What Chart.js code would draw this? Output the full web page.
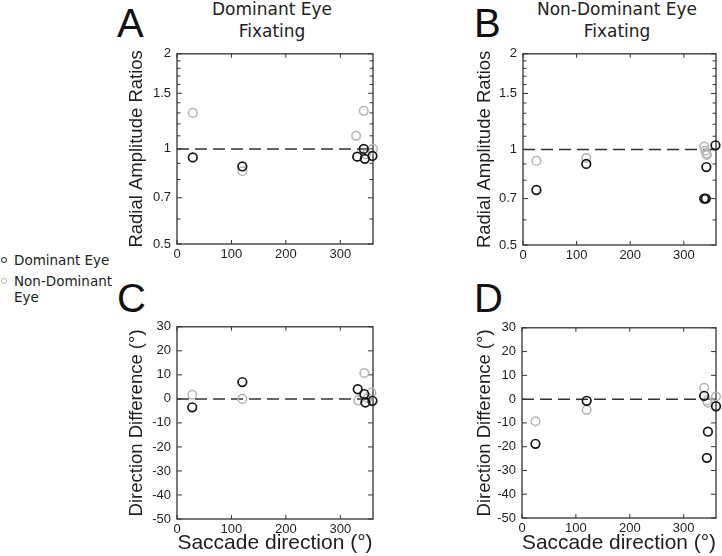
<!DOCTYPE html>
<html lang="en">
<head>
    <meta charset="UTF-8">
    <title>Saccade amplitude and direction</title>
    <script src="https://cdn.jsdelivr.net/npm/chart.js"></script>
    <style>
        body { margin: 0; background: #fff; }
        #page { position: relative; width: 722px; height: 556px; overflow: hidden; }
        canvas { position: absolute; }
        .letter { position: absolute; font-family: 'Liberation Sans', Arial, sans-serif; font-size: 40px; line-height: 40px; color: #111; }
        .title { position: absolute; width: 240px; text-align: center; font-family: 'DejaVu Sans', sans-serif; font-size: 17px; line-height: 22px; color: #222; }
        #legend { position: absolute; left: 0; top: 252px; width: 130px; font-family: 'DejaVu Sans', sans-serif; font-size: 13.5px; line-height: 16px; color: #222; }
        .item { position: relative; padding-left: 14px; margin-bottom: 5px; width: 104px; }
        .mark { position: absolute; left: 1px; top: 5px; width: 4px; height: 4px; border: 1.5px solid; border-radius: 50%; }
    </style>
</head>
<body>
<div id="page">
    <div class="letter" style="left:117px; top:3px;">A</div>
    <div class="letter" style="left:474px; top:3px;">B</div>
    <div class="letter" style="left:117px; top:278px;">C</div>
    <div class="letter" style="left:474px; top:278px;">D</div>
    <div class="title" style="left:152px; top:-2px;">Dominant Eye<br>Fixating</div>
    <div class="title" style="left:497px; top:-2px;">Non-Dominant Eye<br>Fixating</div>
    <div id="legend"></div>

    <canvas id="chartA" width="270" height="225" style="left:120px; top:40px;"></canvas>
    <canvas id="chartB" width="254" height="226" style="left:468px; top:40px;"></canvas>
    <canvas id="chartC" width="270" height="243" style="left:120px; top:313px;"></canvas>
    <canvas id="chartD" width="254" height="242" style="left:468px; top:314px;"></canvas>
</div>

<script>
    // series
    const seriesLabels = ['Dominant Eye', 'Non-Dominant Eye'];
    const seriesColors = ['#161616', '#b4b4b4'];

    // ticks
    const xTickValues = [0, 100, 200, 300];
    const ratioTickValues = [0.5, 0.6, 0.7, 0.8, 0.9, 1, 1.1, 1.2, 1.3, 1.4, 1.5, 1.6, 1.7, 1.8, 1.9, 2];
    const ratioTickLabels = ['0.5', '', '0.7', '', '', '1', '', '', '', '', '1.5', '', '', '', '', '2'];
    const diffTickValues = [-50, -40, -30, -20, -10, 0, 10, 20, 30];
    const diffTickLabels = ['-50', '-40', '-30', '-20', '-10', '0', '10', '20', '30'];

    // A: dominant eye fixating, radial amplitude ratios
    const dirA_dom = [29, 120, 331, 343, 345, 359];
    const ratioA_dom = [0.94, 0.88, 0.945, 1.0, 0.93, 0.95];
    const dirA_non = [29, 120, 329, 343, 347, 360];
    const ratioA_non = [1.30, 0.85, 1.10, 1.32, 0.96, 1.0];

    // B: non-dominant eye fixating, radial amplitude ratios
    const dirB_dom = [25, 118, 338, 341, 342, 359];
    const ratioB_dom = [0.745, 0.90, 0.70, 0.70, 0.88, 1.03];
    const dirB_non = [25, 118, 338, 340, 342, 343];
    const ratioB_non = [0.92, 0.94, 1.02, 0.99, 0.97, 0.96];

    // C: dominant eye fixating, direction difference
    const dirC_dom = [28, 120, 332, 344, 346, 359];
    const diffC_dom = [-3.5, 7.0, 4.0, 2.0, -1.5, -0.8];
    const dirC_non = [28, 120, 333, 344, 350, 357];
    const diffC_non = [1.7, 0, -0.7, 10.8, 0.3, 2.6];

    // D: non-dominant eye fixating, direction difference
    const dirD_dom = [25, 120, 338, 343, 345, 360];
    const diffD_dom = [-18.8, -0.7, 1.4, -24.7, -13.7, -3];
    const dirD_non = [25, 120, 338, 343, 345, 360];
    const diffD_non = [-9.3, -4.5, 4.8, -0.7, -1.5, 1.1];

    const refRatio = 1;
    const refDiff = 0;

    Chart.defaults.font.family = "'Liberation Sans', Arial, sans-serif";
    Chart.defaults.color = '#1e1e1e';

    // legend
    const legend = document.getElementById('legend');
    seriesLabels.forEach((lab, i) => {
        const d = document.createElement('div');
        d.className = 'item';
        d.innerHTML = '<span class="mark" style="border-color:' + seriesColors[i] + '"></span>' + lab;
        legend.appendChild(d);
    });

    function pts(xs, ys) {
        return xs.map((x, i) => ({ x: x, y: ys[i] }));
    }

    // box round the plot with inward tick marks, like the original figure
    const boxPlugin = {
        id: 'box',
        beforeDatasetsDraw(chart) {
            const a = chart.chartArea;
            const ctx = chart.ctx;
            const xs = chart.scales.x, ys = chart.scales.y;
            const major = chart.options.plugins.box.major;
            ctx.save();
            ctx.strokeStyle = '#333';
            ctx.lineWidth = 1.3;
            ctx.strokeRect(a.left, a.top, a.right - a.left, a.bottom - a.top);
            ctx.lineWidth = 1;
            ctx.beginPath();
            xs.ticks.forEach(t => {
                const px = xs.getPixelForValue(t.value);
                ctx.moveTo(px, a.bottom); ctx.lineTo(px, a.bottom - 4);
                ctx.moveTo(px, a.top); ctx.lineTo(px, a.top + 4);
            });
            ys.ticks.forEach(t => {
                const py = ys.getPixelForValue(t.value);
                const len = major.includes(t.value) ? 5 : 3.5;
                ctx.moveTo(a.left, py); ctx.lineTo(a.left + len, py);
                ctx.moveTo(a.right, py); ctx.lineTo(a.right - len, py);
            });
            ctx.stroke();
            ctx.restore();
        }
    };

    function makePanel(id, cfg) {
        const ratio = cfg.kind === 'ratio';
        const tickVals = ratio ? ratioTickValues : diffTickValues;
        const tickLabs = ratio ? ratioTickLabels : diffTickLabels;
        const ref = ratio ? refRatio : refDiff;
        return new Chart(document.getElementById(id), {
            type: 'scatter',
            data: {
                datasets: [
                    {
                        label: seriesLabels[0], data: pts(cfg.domX, cfg.domY), order: 0,
                        borderColor: seriesColors[0], backgroundColor: 'rgba(0,0,0,0)',
                        pointRadius: 4.3, borderWidth: 1.7, clip: false
                    },
                    {
                        label: seriesLabels[1], data: pts(cfg.nonX, cfg.nonY), order: 1,
                        borderColor: seriesColors[1], backgroundColor: 'rgba(0,0,0,0)',
                        pointRadius: 4.3, borderWidth: 1.5, clip: false
                    },
                    {
                        type: 'line', label: 'reference', order: 2,
                        data: [{ x: 0, y: ref }, { x: 360, y: ref }],
                        borderColor: '#333', borderWidth: 1.5, borderDash: [12, 6],
                        pointRadius: 0, fill: false
                    }
                ]
            },
            options: {
                responsive: false,
                animation: false,
                layout: { padding: { left: 6, top: 10, right: cfg.padRight, bottom: 0 } },
                plugins: {
                    legend: { display: false },
                    tooltip: { enabled: false },
                    box: { major: tickVals.filter((v, i) => tickLabs[i] !== '') }
                },
                scales: {
                    x: {
                        type: 'linear', min: 0, max: 360,
                        grid: { display: false, drawTicks: false },
                        border: { display: false },
                        ticks: { padding: 3, font: { size: 13 }, autoSkip: false, maxRotation: 0 },
                        afterBuildTicks: s => { s.ticks = xTickValues.map(v => ({ value: v })); },
                        afterFit: s => { s.height = cfg.xHeight; },
                        title: {
                            display: cfg.xTitle, text: 'Saccade direction (°)',
                            font: { size: 21 }, padding: 0
                        }
                    },
                    y: {
                        type: ratio ? 'logarithmic' : 'linear',
                        min: tickVals[0], max: tickVals[tickVals.length - 1],
                        grid: { display: false, drawTicks: false },
                        border: { display: false },
                        ticks: {
                            padding: 6, font: { size: 13 }, autoSkip: false,
                            callback: (v) => {
                                const i = tickVals.findIndex(t => Math.abs(t - v) < 1e-9);
                                return i < 0 ? '' : tickLabs[i];
                            }
                        },
                        afterBuildTicks: s => { s.ticks = tickVals.map(v => ({ value: v })); },
                        afterFit: s => { s.width = cfg.yWidth; },
                        title: {
                            display: true,
                            text: ratio ? 'Radial Amplitude Ratios' : 'Direction Difference (°)',
                            font: { size: 18.5 }, padding: 0
                        }
                    }
                }
            },
            plugins: [boxPlugin]
        });
    }

    makePanel('chartA', { kind: 'ratio', domX: dirA_dom, domY: ratioA_dom, nonX: dirA_non, nonY: ratioA_non,
        padRight: 17, yWidth: 51, xHeight: 21, xTitle: false });
    makePanel('chartB', { kind: 'ratio', domX: dirB_dom, domY: ratioB_dom, nonX: dirB_non, nonY: ratioB_non,
        padRight: 5, yWidth: 49, xHeight: 21, xTitle: false });
    makePanel('chartC', { kind: 'diff', domX: dirC_dom, domY: diffC_dom, nonX: dirC_non, nonY: diffC_non,
        padRight: 17, yWidth: 51, xHeight: 37, xTitle: true });
    makePanel('chartD', { kind: 'diff', domX: dirD_dom, domY: diffD_dom, nonX: dirD_non, nonY: diffD_non,
        padRight: 5, yWidth: 48, xHeight: 38, xTitle: true });
</script>
</body>
</html>
